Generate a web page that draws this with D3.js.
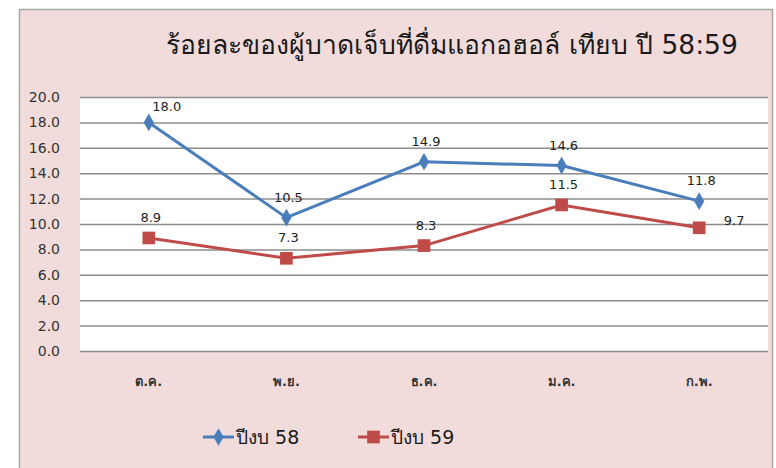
<!DOCTYPE html>
<html>
<head>
<meta charset="utf-8">
<script src="https://cdn.jsdelivr.net/npm/d3@7"></script>
<style>
  body { margin: 0; background: #fff; }
  text { font-family: Tahoma, "DejaVu Sans", "Noto Sans", sans-serif; }
</style>
</head>
<body>
<script>
const months = ['ต.ค.', 'พ.ย.', 'ธ.ค.', 'ม.ค.', 'ก.พ.']
const fy58 = [18.0, 10.5, 14.9, 14.6, 11.8]
const fy59 = [8.9, 7.3, 8.3, 11.5, 9.7]
const seriesNames = ['ปีงบ 58', 'ปีงบ 59']
const yTicks = [0, 2, 4, 6, 8, 10, 12, 14, 16, 18, 20]
const title = 'ร้อยละของผู้บาดเจ็บที่ดื่มแอกอฮอล์ เทียบ ปี 58:59'

function drawChart() {
  const svgWidth = 776, svgHeight = 468
  const plot = {left: 80, top: 97, right: 768, bottom: 351}

  const svg = d3.select('body').append('svg')
    .attr('width', svgWidth)
    .attr('height', svgHeight)

  // outer chart area
  svg.append('rect')
    .attr('x', 19.5).attr('y', 9.5)
    .attr('width', 753).attr('height', 470)
    .attr('fill', '#f2dcdb')
    .attr('stroke', '#a6a6a6')
    .attr('stroke-width', 1.5)

  svg.append('rect')
    .attr('x', plot.left).attr('y', plot.top)
    .attr('width', plot.right - plot.left)
    .attr('height', plot.bottom - plot.top)
    .attr('fill', '#fff')

  svg.append('text')
    .attr('x', 452).attr('y', 54)
    .attr('text-anchor', 'middle')
    .attr('font-size', 26.5)
    .attr('fill', '#1a1a1a')
    .text(title)

  const x = d3.scaleBand().domain(months).range([plot.left, plot.right])
  const y = d3.scaleLinear().domain([0, 20]).range([plot.bottom, plot.top])
  const cx = d => x(d) + x.bandwidth() / 2

  // gridlines
  svg.append('g')
    .attr('transform', 'translate(' + plot.left + ',0)')
    .call(d3.axisLeft(y).tickValues(yTicks).tickSize(-(plot.right - plot.left)).tickFormat(''))
    .call(g => g.select('.domain').remove())
    .call(g => g.selectAll('line').attr('stroke', '#8c8c8c').attr('stroke-width', 1.5))

  // y labels
  svg.append('g')
    .attr('transform', 'translate(' + plot.left + ',0)')
    .call(d3.axisLeft(y).tickValues(yTicks).tickSize(0).tickPadding(20).tickFormat(d3.format('.1f')))
    .call(g => g.select('.domain').remove())
    .call(g => g.selectAll('text').attr('font-size', 14).attr('fill', '#333')
      .style('font-family', 'Tahoma, "DejaVu Sans", sans-serif'))

  // x labels
  svg.append('g')
    .attr('transform', 'translate(0,' + plot.bottom + ')')
    .call(d3.axisBottom(x).tickSize(0).tickPadding(26))
    .call(g => g.select('.domain').remove())
    .call(g => g.selectAll('text').attr('font-size', 13).attr('font-weight', 'bold').attr('fill', '#333')
      .style('font-family', 'Tahoma, "DejaVu Sans", sans-serif'))

  const series = [
    {name: seriesNames[0], values: fy58, color: '#4a7ebb', shape: d3.symbolDiamond, size: 90,
      labelPos: ['tr', 't', 't', 't', 't']},
    {name: seriesNames[1], values: fy59, color: '#be4b48', shape: d3.symbolSquare, size: 160,
      labelPos: ['t', 't', 't', 't', 'r']}
  ]

  const line = d3.line()
    .x((d, i) => cx(months[i]))
    .y(d => y(d))

  series.forEach(s => {
    svg.append('path')
      .datum(s.values)
      .attr('fill', 'none')
      .attr('stroke', s.color)
      .attr('stroke-width', 3)
      .attr('d', line)

    svg.append('g').selectAll('path')
      .data(s.values)
      .join('path')
      .attr('transform', (d, i) => 'translate(' + cx(months[i]) + ',' + y(d) + ')')
      .attr('d', d3.symbol().type(s.shape).size(s.size))
      .attr('fill', s.color)

    svg.append('g').selectAll('text')
      .data(s.values)
      .join('text')
      .attr('x', (d, i) => cx(months[i]) + (s.labelPos[i] === 'tr' ? 18 : s.labelPos[i] === 'r' ? 35 : 2))
      .attr('y', (d, i) => y(d) + (s.labelPos[i] === 'r' ? -3 : s.labelPos[i] === 'tr' ? -11 : -16))
      .attr('text-anchor', 'middle')
      .attr('font-size', 13)
      .attr('fill', '#222')
      .text(d => d3.format('.1f')(d))
  })

  // legend
  const legend = svg.append('g')
  const legendX = [203, 358]
  series.forEach((s, i) => {
    const g = legend.append('g').attr('transform', 'translate(' + legendX[i] + ',437)')
    g.append('line').attr('x1', 0).attr('x2', 31)
      .attr('stroke', s.color).attr('stroke-width', 3)
    g.append('path').attr('transform', 'translate(15.5,0)')
      .attr('d', d3.symbol().type(s.shape).size(s.size))
      .attr('fill', s.color)
    g.append('text').attr('x', 33).attr('y', 7)
      .attr('font-size', 19)
      .attr('fill', '#1a1a1a')
      .text(s.name)
  })
}

drawChart()
</script>
</body>
</html>
